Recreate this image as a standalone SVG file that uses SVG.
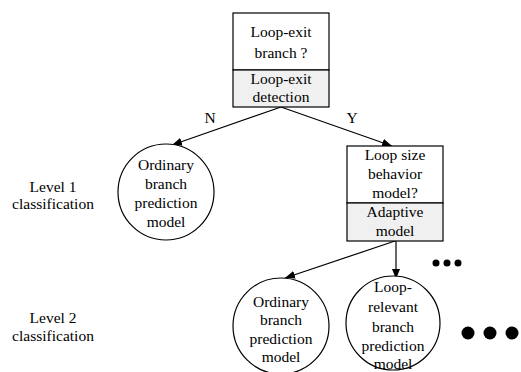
<svg xmlns="http://www.w3.org/2000/svg" width="521" height="372" viewBox="0 0 521 372">
<defs>
<style>
text{font-family:'Liberation Serif','DejaVu Serif',serif;font-size:15.5px;fill:#000;text-anchor:middle}
.box{fill:#fff;stroke:#000;stroke-width:1.2}
.shade{fill:#f0f0f0;stroke:#000;stroke-width:1.2}
.circ{fill:#fff;stroke:#000;stroke-width:1.2}
.edge{fill:none;stroke:#000;stroke-width:1.2}
</style>
<marker id="arr" viewBox="0 0 10 8" refX="10" refY="4" markerWidth="10" markerHeight="8" markerUnits="userSpaceOnUse" orient="auto">
<path d="M0,0 L10,4 L0,8 Z" fill="#000"/>
</marker>
</defs>
<rect width="521" height="372" fill="#fff"/>
<g font-family="Liberation Serif, DejaVu Serif, serif">
<g id="connectors">
<line class="edge" x1="281" y1="107" x2="172" y2="145" marker-end="url(#arr)"/>
<line class="edge" x1="281" y1="107" x2="392" y2="146" marker-end="url(#arr)"/>
<line class="edge" x1="395" y1="241" x2="285" y2="278" marker-end="url(#arr)"/>
<line class="edge" x1="396" y1="241" x2="396" y2="279" marker-end="url(#arr)"/>
<text x="210" y="123">N</text>
<text x="352" y="123">Y</text>
</g>
<g id="loop-exit">
<rect class="box" x="233" y="13" width="96" height="57"/>
<rect class="shade" x="233" y="70" width="96" height="37"/>
<text x="281" y="37">Loop-exit</text>
<text x="281" y="58">branch ?</text>
<text x="281" y="84">Loop-exit</text>
<text x="281" y="102">detection</text>
</g>
<g id="ordinary1">
<circle class="circ" cx="166" cy="192" r="48"/>
<text x="166" y="170">Ordinary</text>
<text x="166" y="189">branch</text>
<text x="166" y="208">prediction</text>
<text x="166" y="227">model</text>
</g>
<g id="loopsize">
<rect class="box" x="347" y="146" width="96" height="57"/>
<rect class="shade" x="347" y="203" width="96" height="38"/>
<text x="395" y="160">Loop size</text>
<text x="395" y="179">behavior</text>
<text x="395" y="198">model?</text>
<text x="395" y="217">Adaptive</text>
<text x="395" y="236">model</text>
</g>
<g id="ordinary2">
<circle class="circ" cx="281" cy="326" r="48"/>
<text x="281" y="307">Ordinary</text>
<text x="281" y="325">branch</text>
<text x="281" y="344">prediction</text>
<text x="281" y="362">model</text>
</g>
<g id="looprelevant">
<circle class="circ" cx="393" cy="323" r="47"/>
<text x="393" y="292">Loop-</text>
<text x="393" y="312">relevant</text>
<text x="393" y="332">branch</text>
<text x="393" y="351">prediction</text>
<text x="393" y="369">model</text>
</g>
<g id="levels">
<text x="53" y="192">Level 1</text>
<text x="53" y="209">classification</text>
<text x="53" y="323">Level 2</text>
<text x="53" y="341">classification</text>
</g>
</g>
<g id="dots" fill="#000">
<circle cx="436" cy="263" r="3.5"/>
<circle cx="447" cy="263" r="3.5"/>
<circle cx="458" cy="263" r="3.5"/>
<circle cx="468" cy="333" r="6.5"/>
<circle cx="490" cy="333" r="6.5"/>
<circle cx="512" cy="333" r="6.5"/>
</g>
</svg>
